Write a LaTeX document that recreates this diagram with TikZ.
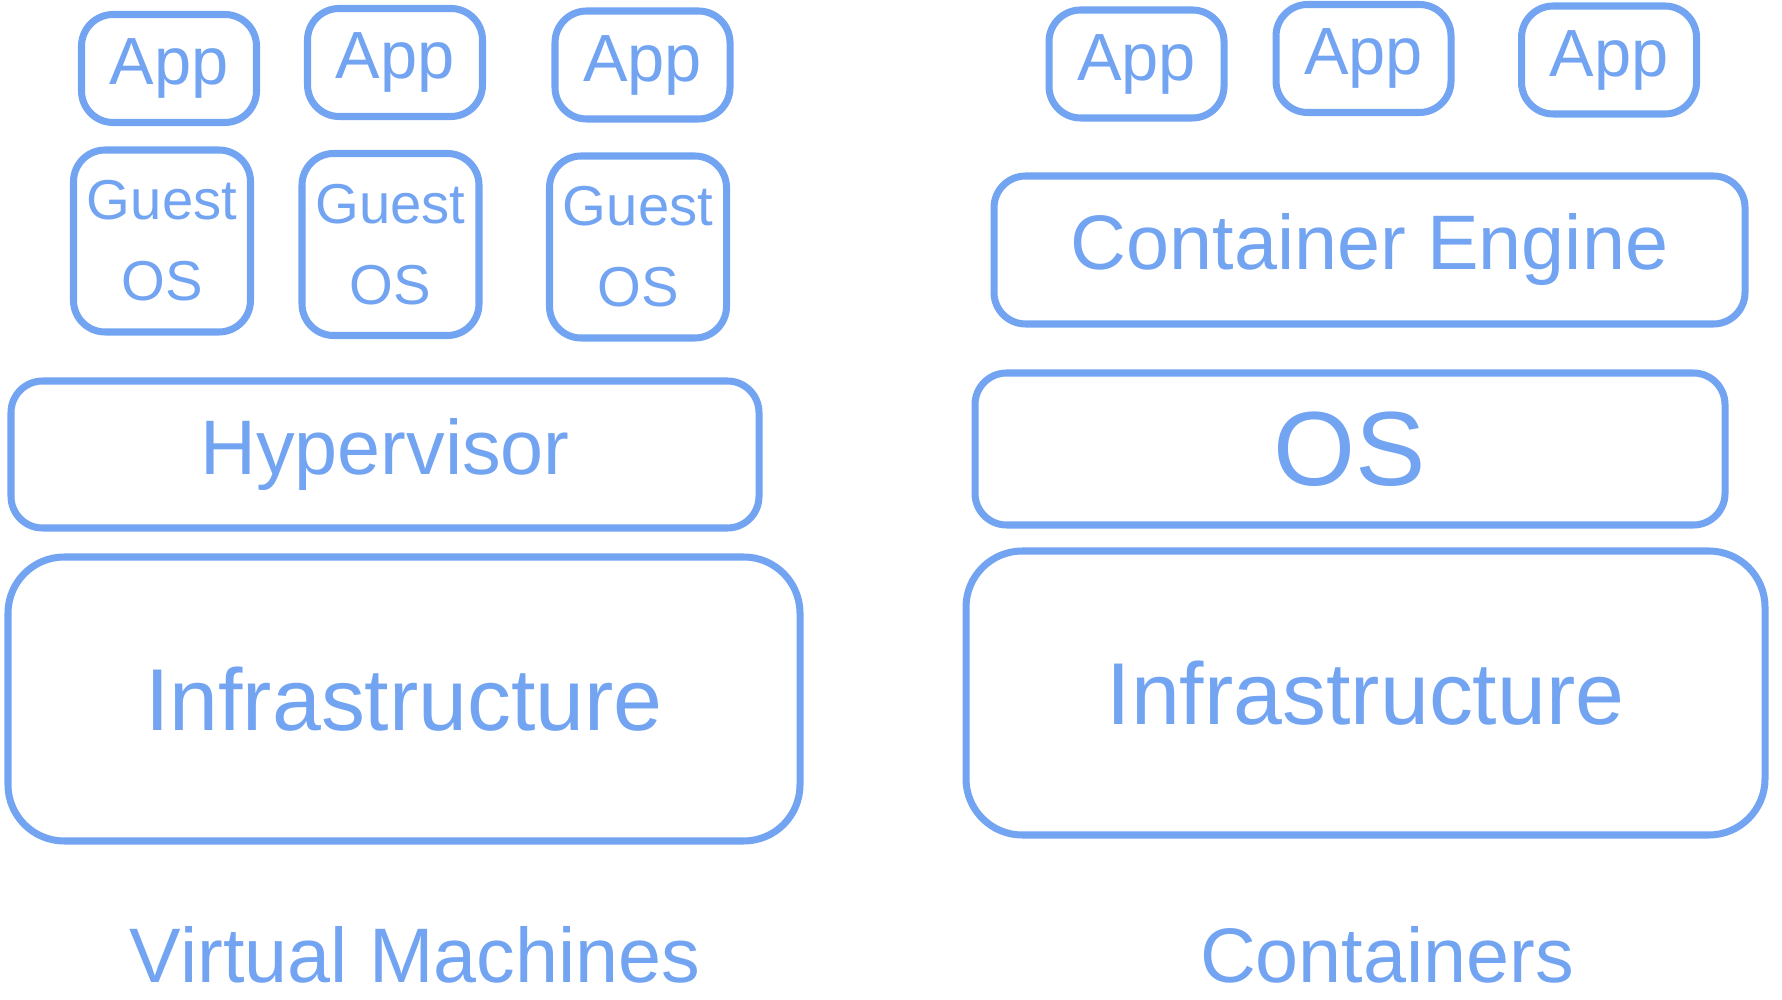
\documentclass[tikz,border=0pt]{standalone}
\usepackage{fontspec}
\setmainfont{Liberation Sans}
\usepackage{tikz}
\usetikzlibrary{positioning}
\definecolor{sketch}{HTML}{72A4F2}
\tikzset{
  box/.style={rectangle,rounded corners=9pt,draw=sketch,line width=2pt,
    align=center,text=sketch,inner sep=0pt},
  appbox/.style={box,minimum width=1.75cm,minimum height=1.08cm,font=\fontsize{19}{21}\selectfont},
  guestbox/.style={box,minimum width=1.77cm,minimum height=1.82cm,font=\fontsize{16}{23}\selectfont},
  layer/.style={box,minimum width=7.5cm,minimum height=1.5cm,font=\fontsize{22}{26}\selectfont},
  base/.style={box,minimum width=7.95cm,minimum height=2.84cm,rounded corners=16pt,font=\fontsize{25}{30}\selectfont},
  caption/.style={text=sketch,font=\fontsize{22}{26}\selectfont},
}
\begin{document}
\begin{tikzpicture}[x=1cm,y=-1cm]
  \useasboundingbox (0,0) rectangle (17.82,10);
  % virtual machines
  \node[appbox] (vmappa) at (1.69,0.685) {App};
  \node[appbox] (vmappb) at (3.95,0.625) {App};
  \node[appbox] (vmappc) at (6.425,0.65) {App};
  \node[guestbox] (guesta) at (1.62,2.41) {Guest\\OS};
  \node[guestbox] (guestb) at (3.905,2.445) {Guest\\OS};
  \node[guestbox] (guestc) at (6.38,2.47) {Guest\\OS};
  \node[layer,minimum width=7.48cm,minimum height=1.47cm] (hyper) at (3.85,4.545) {Hypervisor};
  \node[base,minimum width=7.92cm] (vminfra) at (4.04,6.99) {Infrastructure};
  \node[caption] (vmlbl) at (4.15,9.55) {Virtual Machines};
  % containers
  \node[appbox] (ctappa) at (11.365,0.64) {App};
  \node[appbox] (ctappb) at (13.635,0.585) {App};
  \node[appbox] (ctappc) at (16.09,0.60) {App};
  \node[layer,minimum width=7.51cm,minimum height=1.48cm] (engine) at (13.695,2.50) {Container Engine};
  \node[layer,minimum height=1.52cm,font=\fontsize{30}{34}\selectfont] (hostos) at (13.50,4.49) {OS};
  \node[base,minimum width=7.99cm] (ctinfra) at (13.655,6.93) {Infrastructure};
  \node[caption] (ctlbl) at (13.87,9.55) {Containers};
\end{tikzpicture}
\end{document}
